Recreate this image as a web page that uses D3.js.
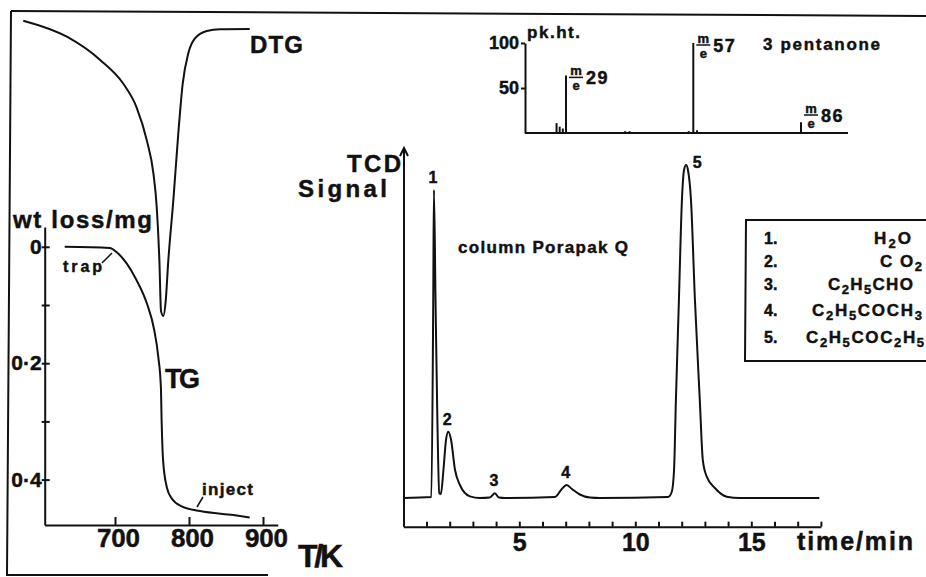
<!DOCTYPE html>
<html>
<head>
<meta charset="utf-8">
<script src="https://cdn.jsdelivr.net/npm/d3@7"></script>
<style>
body { margin: 0; background: #fff; }
svg { display: block; background: #fff; }
text { font-family: "Liberation Sans", Arial, Helvetica, sans-serif; font-weight: bold; fill: #111; stroke: #111; stroke-width: 0.45px; }
</style>
</head>
<body>
<svg id="chart" width="926" height="577"></svg>
<script>
// TG curve: temperature (K) vs weight loss (mg)
const tgTemp = [632, 693, 702, 716, 729, 743, 753, 758.5, 762, 763, 765, 770, 777, 790, 815, 860, 882];
const tgLoss = [0, 0.002, 0.009, 0.029, 0.057, 0.097, 0.143, 0.189, 0.241, 0.298, 0.367, 0.413, 0.433, 0.446, 0.454, 0.461, 0.465];

// DTG curve: temperature (K) vs relative rate (no scale in the original)
const dtgTemp = [576, 635, 680, 711, 729, 743, 752, 756.4, 760, 762.2, 765.3, 768.5, 772, 778.8, 785.5, 791.5, 799, 808, 824, 842, 882];
const dtgRate = [-0.029, 0.027, 0.108, 0.19, 0.272, 0.388, 0.505, 0.621, 0.808, 0.983, 1.0, 0.948, 0.808, 0.598, 0.365, 0.19, 0.085, 0.033, 0.007, 0.001, 0];

// gas chromatogram trace: time (min) vs TCD signal (relative)
const gcTime = [0, 1.21, 1.29, 1.32, 1.39, 1.47, 1.55, 1.62, 1.73, 1.84, 1.94, 2.06, 2.23, 2.44, 2.87, 3.3, 3.73, 3.95, 4.12, 4.38,
  6.54, 6.8, 7.04, 7.27, 7.61, 8.05, 8.48, 11.41, 11.57, 11.67, 11.75, 11.88, 12.01, 12.1, 12.19, 12.27, 12.4, 12.57, 12.78,
  12.91, 13.08, 13.43, 13.94, 14.5, 17.93];
const gcSignal = [0, 0.3, 59, 92.5, 59, 23, 1.5, 1.2, 8.4, 17.4, 19.9, 17.4, 8.4, 3.9, 0.5, 0, 0.15, 1.4, 0.15, 0,
  0.3, 2.4, 3.9, 2.7, 1.05, 0.15, 0, 0.3, 1.8, 8.4, 29.4, 59.5, 89.5, 98.5, 100, 98.5, 89.5, 59.5, 29.4,
  11.4, 6.4, 3, 0.4, 0, 0];

// peak labels
const peakNames = ["1", "2", "3", "4", "5"];
const peakTimes = [1.32, 1.94, 3.95, 7.04, 12.19];
const peakHeights = [92.5, 19.9, 1.4, 3.9, 100];

// legend
const legendNumbers = ["1.", "2.", "3.", "4.", "5."];
const legendFormulas = ["H2O", "C O2", "C2H5CHO", "C2H5COCH3", "C2H5COC2H5"];

// mass spectrum of 3 pentanone: m/e vs peak height
const msMass = [26, 27, 28, 29, 42, 43, 56, 57, 58, 86];
const msHeight = [11, 7, 5, 64, 2, 2, 2, 100, 3, 12];
const msLabelled = [29, 57, 86];

const svg = d3.select("#chart");

function label(x, y, txt, size, width, anchor) {
  const t = svg.append("text")
    .attr("x", x).attr("y", y)
    .attr("font-size", size)
    .attr("text-anchor", anchor || "start")
    .text(txt);
  if (width) t.attr("textLength", width).attr("lengthAdjust", "spacing");
  return t;
}

// frame lines of the figure
const frame = svg.append("g").attr("stroke", "#111").attr("stroke-width", 2).attr("fill", "none");
frame.append("path").attr("d", "M11,11 L926,16");
frame.append("path").attr("d", "M11,11 L7,575 L268,575");

// ---------- TG / DTG ----------
const tgX = d3.scaleLinear().domain([605, 920]).range([44.7, 277.8]);
const tgY = d3.scaleLinear().domain([-0.034, 0.478]).range([227, 525]);
const dtgY = d3.scaleLinear().domain([0, 1]).range([29, 316]);

const xAxisTg = svg.append("g")
  .attr("transform", `translate(0,${tgY(0.478)})`)
  .call(d3.axisBottom(tgX).tickValues([700, 800, 900]).tickSizeInner(-8).tickSizeOuter(0).tickPadding(4));
xAxisTg.attr("font-family", null);
xAxisTg.selectAll("text").attr("font-size", 26).attr("dx", 3)
  .attr("textLength", 43).attr("lengthAdjust", "spacing");

const yAxisTg = svg.append("g")
  .attr("transform", `translate(${tgX(605)},0)`)
  .call(d3.axisLeft(tgY).tickValues([0, 0.1, 0.2, 0.3, 0.4]).tickSizeInner(-5).tickSizeOuter(0).tickPadding(3)
    .tickFormat(d => d === 0 ? "0" : (d === 0.2 || d === 0.4) ? d3.format(".1f")(d).replace(".", "·") : ""));
yAxisTg.attr("font-family", null);
yAxisTg.selectAll(".tick line").attr("x1", -3).attr("x2", 5);
yAxisTg.selectAll("text").attr("font-size", 21);

svg.selectAll(".domain, .tick line").attr("stroke", "#111").attr("stroke-width", 2);

const tgLine = d3.line().x((d, i) => tgX(tgTemp[i])).y((d, i) => tgY(tgLoss[i])).curve(d3.curveMonotoneX);
svg.append("path").attr("d", tgLine(tgTemp)).attr("fill", "none").attr("stroke", "#111").attr("stroke-width", 2);

const dtgLine = d3.line().x((d, i) => tgX(dtgTemp[i])).y((d, i) => dtgY(dtgRate[i])).curve(d3.curveMonotoneX);
svg.append("path").attr("d", dtgLine(dtgTemp)).attr("fill", "none").attr("stroke", "#111").attr("stroke-width", 2);

label(250, 53, "DTG", 24, 53);
label(165, 388, "TG", 27, 35);
label(13, 228, "wt loss/mg", 24, 139);
label(298, 567, "T/K", 32, 45);
label(63, 272, "trap", 16, 39);
label(202, 495, "inject", 17, 51);
svg.append("path").attr("d", "M102,263 L112,253").attr("stroke", "#111").attr("stroke-width", 1.5);
svg.append("path").attr("d", "M197,507 L203,497").attr("stroke", "#111").attr("stroke-width", 1.5);

// ---------- gas chromatogram ----------
const gcX = d3.scaleLinear().domain([0, 18]).range([403.3, 820.9]);
const gcY = d3.scaleLinear().domain([0, 100]).range([498, 165]);

const xAxisGc = svg.append("g")
  .attr("transform", `translate(0,${gcY(-8.6)})`)
  .call(d3.axisBottom(gcX).tickValues(d3.range(1, 19)).tickSizeInner(-5).tickSizeOuter(0).tickPadding(7)
    .tickFormat(d => d % 5 === 0 ? d : ""));
xAxisGc.attr("font-family", null);
xAxisGc.selectAll("text").attr("font-size", 25);
xAxisGc.selectAll(".domain, .tick line").attr("stroke", "#111").attr("stroke-width", 2);

// signal axis with arrow
svg.append("path")
  .attr("d", `M${gcX(0) + 0.7},${gcY(-8.6)} L${gcX(0) + 0.7},${gcY(105.1)}`)
  .attr("stroke", "#111").attr("stroke-width", 2);
svg.append("path")
  .attr("d", `M${gcX(0) - 3.3},${gcY(105.1) + 8} L${gcX(0) + 0.7},${gcY(105.1)} L${gcX(0) + 4.7},${gcY(105.1) + 8}`)
  .attr("fill", "none").attr("stroke", "#111").attr("stroke-width", 2);

const gcLine = d3.line().x((d, i) => gcX(gcTime[i])).y((d, i) => gcY(gcSignal[i])).curve(d3.curveMonotoneX);
svg.append("path").attr("d", gcLine(gcTime)).attr("fill", "none").attr("stroke", "#111").attr("stroke-width", 2);

svg.append("g").selectAll("text")
  .data(peakNames)
  .join("text")
  .attr("x", (d, i) => gcX(peakTimes[i]) + (i === 4 ? 11 : -1))
  .attr("y", (d, i) => gcY(peakHeights[i]) + (i === 4 ? 3 : -7))
  .attr("text-anchor", "middle")
  .attr("font-size", 16)
  .text(d => d);

label(401, 172, "TCD", 24, 54, "end");
label(298, 197, "Signal", 24, 89);
label(458, 253, "column Porapak Q", 17, 170);
label(797, 550, "time/min", 25, 116);

// ---------- legend ----------
const legendRight = [911, 922, 913, 922, 924];
const legendWidth = [37, 42, 85, 110, 118];
const legendBase = [244, 267, 290, 316, 343];
svg.append("path").attr("d", "M930,220 L746,220 L745,361 L930,361")
  .attr("fill", "none").attr("stroke", "#111").attr("stroke-width", 2);
legendNumbers.forEach((n, i) => {
  label(764, legendBase[i], n, 16);
  const t = svg.append("text")
    .attr("x", legendRight[i]).attr("y", legendBase[i])
    .attr("text-anchor", "end").attr("font-size", 17)
    .attr("textLength", legendWidth[i]).attr("lengthAdjust", "spacing");
  let sub = false;
  legendFormulas[i].match(/\d+|\D+/g).forEach(part => {
    const isNum = /\d/.test(part);
    const sp = t.append("tspan").text(part);
    if (isNum) sp.attr("font-size", 13).attr("dy", 4);
    else if (sub) sp.attr("dy", -4);
    sub = isNum;
  });
});

// ---------- mass spectrum inset ----------
const msX = d3.scaleLinear().domain([16, 29, 57, 86, 99]).range([525, 566, 693.3, 801, 848]);
const msY = d3.scaleLinear().domain([0, 100]).range([133, 43]);

const yAxisMs = svg.append("g")
  .attr("transform", `translate(${msX(16)},0)`)
  .call(d3.axisLeft(msY).tickValues([50, 100]).tickSizeInner(4).tickSizeOuter(0).tickPadding(2));
yAxisMs.attr("font-family", null);
yAxisMs.selectAll("text").attr("font-size", 18);
yAxisMs.selectAll(".domain, .tick line").attr("stroke", "#111").attr("stroke-width", 2);

svg.append("path")
  .attr("d", `M${msX(16)},${msY(0)} L${msX(99)},${msY(0)}`)
  .attr("stroke", "#111").attr("stroke-width", 2);

svg.append("g").selectAll("line")
  .data(msMass)
  .join("line")
  .attr("x1", d => msX(d)).attr("x2", d => msX(d))
  .attr("y1", msY(0))
  .attr("y2", (d, i) => msY(msHeight[i]))
  .attr("stroke", "#111").attr("stroke-width", 2);

// m/e fraction and mass number
msLabelled.forEach(m => {
  const h = msHeight[msMass.indexOf(m)];
  const bar = Math.min(msY(h) + 2, msY(0) - 18);
  const cx = msX(m) + 10;
  svg.append("line").attr("x1", cx - 7).attr("x2", cx + 7).attr("y1", bar).attr("y2", bar)
    .attr("stroke", "#111").attr("stroke-width", 1.5);
  label(cx, bar - 2, "m", 13, null, "middle");
  label(cx, bar + 13, "e", 13, null, "middle");
  label(cx + 10, bar + 7, String(m), 18).attr("letter-spacing", 1.5);
});

label(527, 38, "pk.ht.", 17, 53);
label(763, 50, "3 pentanone", 17, 117);
</script>
</body>
</html>
